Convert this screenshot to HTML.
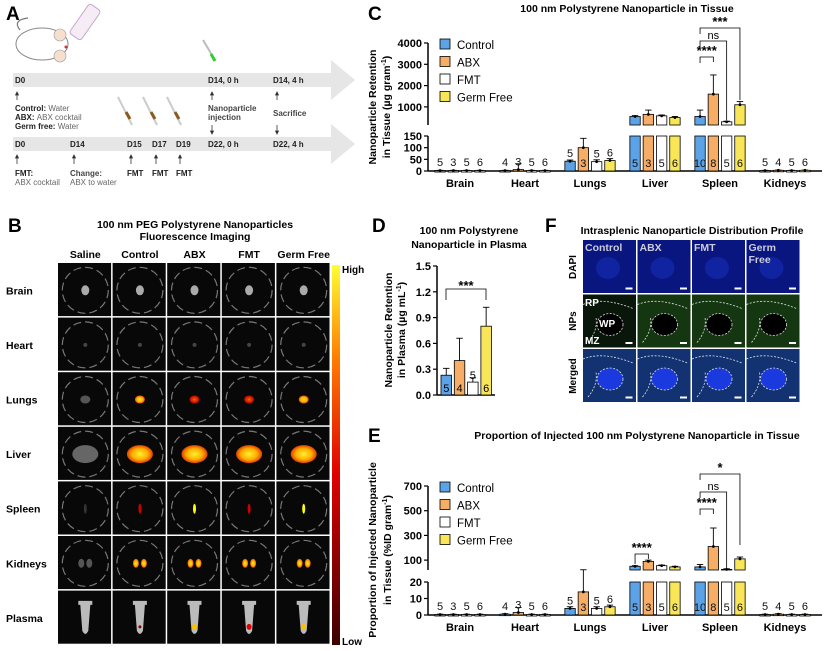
<!DOCTYPE html>
<html><head><meta charset="utf-8"><style>
body{margin:0;background:#fff}
svg{display:block;font-family:"Liberation Sans",Arial,sans-serif}
</style></head><body>
<svg id="fig" width="824" height="651" viewBox="0 0 824 651" xmlns="http://www.w3.org/2000/svg">
<defs>
<linearGradient id="cbar" x1="0" y1="1" x2="0" y2="0"><stop offset="0" stop-color="#3a0000"/><stop offset="0.45" stop-color="#e00000"/><stop offset="0.75" stop-color="#ff7a00"/><stop offset="1" stop-color="#ffff30"/></linearGradient>
<radialGradient id="blob"><stop offset="0" stop-color="#ffee30"/><stop offset="0.6" stop-color="#ffb000"/><stop offset="1" stop-color="#e04000"/></radialGradient>
<radialGradient id="blobr"><stop offset="0" stop-color="#ff6000"/><stop offset="1" stop-color="#b00000"/></radialGradient>
</defs>
<!-- Panel A -->
<g>
<text x="6" y="20" font-size="19" font-weight="bold">A</text>
<g>
<path d="M20 30 Q12 20 28 18" fill="none" stroke="#777" stroke-width="1.2"/>
<ellipse cx="42" cy="44" rx="26" ry="16" fill="#fff" stroke="#888" stroke-width="1"/>
<circle cx="60" cy="35" r="6" fill="#f5e0d0" stroke="#999" stroke-width="0.6"/>
<circle cx="60" cy="56" r="6" fill="#f5e0d0" stroke="#999" stroke-width="0.6"/>
<circle cx="66" cy="47" r="1.5" fill="#c33"/>
<rect x="78" y="4" width="14" height="36" rx="3" fill="#f6ecf6" stroke="#c8a8c8" transform="rotate(35 85 22)"/>
</g>
<rect x="13" y="73" width="318" height="14" fill="#e6e6e6"/>
<polygon points="331,60 355,80 331,100" fill="#e6e6e6"/>
<rect x="13" y="137" width="318" height="14" fill="#e6e6e6"/>
<polygon points="331,124 355,144 331,164" fill="#e6e6e6"/>
<g font-size="8" font-weight="bold" fill="#222">
<text x="15" y="83">D0</text><text x="208" y="83">D14, 0 h</text><text x="273" y="83">D14, 4 h</text>
<text x="15" y="147">D0</text><text x="70" y="147">D14</text><text x="127" y="147">D15</text><text x="152" y="147">D17</text><text x="176" y="147">D19</text><text x="208" y="147">D22, 0 h</text><text x="273" y="147">D22, 4 h</text>
<text x="15" y="111">Control: <tspan font-weight="normal" fill="#666">Water</tspan></text>
<text x="15" y="120">ABX: <tspan font-weight="normal" fill="#666">ABX cocktail</tspan></text>
<text x="15" y="129">Germ free: <tspan font-weight="normal" fill="#666">Water</tspan></text>
<text x="208" y="111" fill="#444">Nanoparticle</text><text x="208" y="120" fill="#444">injection</text>
<text x="273" y="116" fill="#444">Sacrifice</text>
<text x="15" y="176">FMT:</text><text x="15" y="185" font-weight="normal" fill="#666">ABX cocktail</text>
<text x="70" y="176" fill="#444">Change:</text><text x="70" y="185" font-weight="normal" fill="#666">ABX to water</text>
<text x="127" y="176">FMT</text><text x="152" y="176">FMT</text><text x="176" y="176">FMT</text>
</g>
<g stroke="#333" stroke-width="0.8" id="arrowsA"></g>
<g>
<line x1="203" y1="40" x2="215" y2="60" stroke="#bbb" stroke-width="2"/><line x1="211" y1="54" x2="215" y2="61" stroke="#3c3" stroke-width="3"/>
<line x1="118" y1="97" x2="132" y2="125" stroke="#ccc" stroke-width="2"/><line x1="126" y1="112" x2="130" y2="119" stroke="#8a5a20" stroke-width="3"/>
<line x1="143" y1="97" x2="157" y2="125" stroke="#ccc" stroke-width="2"/><line x1="151" y1="112" x2="155" y2="119" stroke="#8a5a20" stroke-width="3"/>
<line x1="167" y1="97" x2="181" y2="125" stroke="#ccc" stroke-width="2"/><line x1="175" y1="112" x2="179" y2="119" stroke="#8a5a20" stroke-width="3"/>
</g>
</g>
<!-- Panel B -->
<g>
<text x="8" y="232" font-size="19" font-weight="bold">B</text>
<text x="195" y="228" font-size="10.5" font-weight="bold" text-anchor="middle">100 nm PEG Polystyrene Nanoparticles</text>
<text x="195" y="240" font-size="10.5" font-weight="bold" text-anchor="middle">Fluorescence Imaging</text>
<g id="gridB"></g>
<rect x="332" y="265" width="8" height="380" fill="url(#cbar)"/>
<text x="342" y="273" font-size="10" font-weight="bold">High</text>
<text x="342" y="645" font-size="10" font-weight="bold">Low</text>
</g>
<!-- Panel C -->
<g id="panelC">
<text x="368" y="20" font-size="19" font-weight="bold">C</text>
<text x="627" y="12" font-size="10.5" font-weight="bold" text-anchor="middle">100 nm Polystyrene Nanoparticle in Tissue</text>
<text transform="translate(376,107) rotate(-90)" font-size="10.5" font-weight="bold" text-anchor="middle">Nanoparticle Retention</text>
<text transform="translate(390,107) rotate(-90)" font-size="10.5" font-weight="bold" text-anchor="middle">in Tissue (µg gram<tspan dy="-4" font-size="7">-1</tspan><tspan dy="4">)</tspan></text>
</g>
<!-- Panel D -->
<g id="panelD">
<text x="372" y="232" font-size="19" font-weight="bold">D</text>
<text x="469" y="234" font-size="10.5" font-weight="bold" text-anchor="middle">100 nm Polystyrene</text>
<text x="469" y="248" font-size="10.5" font-weight="bold" text-anchor="middle">Nanoparticle in Plasma</text>
<text transform="translate(392,330) rotate(-90)" font-size="10.5" font-weight="bold" text-anchor="middle">Nanoparticle Retention</text>
<text transform="translate(405,330) rotate(-90)" font-size="10.5" font-weight="bold" text-anchor="middle">in Plasma (µg mL<tspan dy="-4" font-size="7">-1</tspan><tspan dy="4">)</tspan></text>
</g>
<!-- Panel F -->
<g>
<text x="545" y="232" font-size="19" font-weight="bold">F</text>
<text x="692" y="234" font-size="10.5" font-weight="bold" text-anchor="middle">Intrasplenic Nanoparticle Distribution Profile</text>
<g id="gridF"></g>
<text transform="translate(576,267) rotate(-90)" font-size="10" font-weight="bold" text-anchor="middle">DAPI</text>
<text transform="translate(576,321) rotate(-90)" font-size="10" font-weight="bold" text-anchor="middle">NPs</text>
<text transform="translate(576,376) rotate(-90)" font-size="10" font-weight="bold" text-anchor="middle">Merged</text>
</g>
<!-- Panel E -->
<g id="panelE">
<text x="368" y="442" font-size="19" font-weight="bold">E</text>
<text x="637" y="439" font-size="10.5" font-weight="bold" text-anchor="middle">Proportion of Injected 100 nm Polystyrene Nanoparticle in Tissue</text>
<text transform="translate(376,550) rotate(-90)" font-size="10.5" font-weight="bold" text-anchor="middle">Proportion of Injected Nanoparticle</text>
<text transform="translate(391,550) rotate(-90)" font-size="10.5" font-weight="bold" text-anchor="middle">in Tissue (%ID gram<tspan dy="-4" font-size="7">-1</tspan><tspan dy="4">)</tspan></text>
</g>
</svg>
<script>
const categories = ["Brain","Heart","Lungs","Liver","Spleen","Kidneys"];
const groups = ["Control","ABX","FMT","Germ Free"];
const colors = ["#5ba3e6","#f6ad66","#ffffff","#f8e658"];
const seriesC = [[2,2,2,2],[2,6,2,2],[42,100,40,45],[550,650,580,500],[550,1600,300,1100],[2,3,2,3]];
const errC = [[1,1,1,1],[1,25,1,1],[5,40,8,8],[40,200,40,50],[300,900,30,150],[1,1,1,1]];
const nC = [[5,3,5,6],[4,3,5,6],[5,3,5,6],[5,3,5,6],[10,8,5,6],[5,4,5,6]];
const ticksCLow = [0,50,100,150];
const ticksCHigh = [1000,2000,3000,4000];
const seriesE = [[0.3,0.3,0.3,0.3],[0.5,1.5,0.3,0.3],[4,14,4,5],[50,90,55,45],[45,210,25,110],[0.3,0.5,0.3,0.3]];
const errE = [[0.2,0.2,0.2,0.2],[0.3,3,0.2,0.2],[1,8,1,1],[5,10,5,5],[20,150,5,15],[0.2,0.3,0.2,0.2]];
const nE = [[5,3,5,6],[4,3,5,6],[5,3,5,6],[5,3,5,6],[10,8,5,6],[5,4,5,6]];
const ticksELow = [0,10,20];
const ticksEHigh = [100,300,500,700];
const plasmaValues = [0.23,0.4,0.15,0.8];
const plasmaErr = [0.08,0.26,0.05,0.22];
const plasmaN = [5,4,5,6];
const ticksD = [0,0.3,0.6,0.9,1.2,1.5];
const rowsB = ["Brain","Heart","Lungs","Liver","Spleen","Kidneys","Plasma"];
const colsB = ["Saline","Control","ABX","FMT","Germ Free"];
const colsF = ["Control","ABX","FMT","Germ Free"];

const NS="http://www.w3.org/2000/svg";
function mk(parent,tag,attrs,text){const e=document.createElementNS(NS,tag);for(const k in attrs)e.setAttribute(k,attrs[k]);if(text!==undefined)e.textContent=text;parent.appendChild(e);return e;}

(function(){const g=document.getElementById('arrowsA');
[[17,92,100],[212,92,100],[277,92,100],[17,155,164],[74,155,164],[131,155,164],[156,155,164],[180,155,164]].forEach(a=>{mk(g,'line',{x1:a[0],y1:a[2],x2:a[0],y2:a[1]});mk(g,'polygon',{points:`${a[0]-1.5},${a[1]+3} ${a[0]},${a[1]} ${a[0]+1.5},${a[1]+3}`,fill:'#333'});});
[[212,125,134],[277,125,134]].forEach(a=>{mk(g,'line',{x1:a[0],y1:a[1],x2:a[0],y2:a[2]});mk(g,'polygon',{points:`${a[0]-1.5},${a[2]-3} ${a[0]},${a[2]} ${a[0]+1.5},${a[2]-3}`,fill:'#333'});});
})();

(function(){const g=document.getElementById('gridB');
const x0=58,y0=263,cw=54.6,rh=54.6;
colsB.forEach((c,j)=>{const t=mk(g,'text',{x:x0+cw*j+cw/2,y:258,'font-size':10.5,'font-weight':'bold','text-anchor':'middle'},c);
});
rowsB.forEach((r,i)=>{const t=mk(g,'text',{x:6,y:y0+rh*i+rh/2+4,'font-size':10.5,'font-weight':'bold'},r);

colsB.forEach((c,j)=>{const x=x0+cw*j,y=y0+rh*i,cx=x+cw/2,cy=y+rh/2;
const cell=mk(g,'rect',{x:x,y:y,width:cw-1.5,height:rh-1.5,fill:'#080808'});

if(r!=="Plasma"){mk(g,'circle',{cx:cx,cy:cy,r:23,fill:'none',stroke:'#777','stroke-width':1.2,'stroke-dasharray':'8 4'});}
if(r==="Brain"){mk(g,'ellipse',{cx:cx,cy:cy,rx:4,ry:5,fill:'#aaa'});}
else if(r==="Heart"){mk(g,'circle',{cx:cx,cy:cy,r:2,fill:'#444'});}
else if(r==="Lungs"){mk(g,'ellipse',{cx:cx,cy:cy,rx:5,ry:4,fill:j?(j==2||j==3?'url(#blobr)':'url(#blob)'):'#555'});}
else if(r==="Liver"){mk(g,'ellipse',{cx:cx,cy:cy,rx:13,ry:9,fill:j?'url(#blob)':'#666'});}
else if(r==="Spleen"){mk(g,'ellipse',{cx:cx,cy:cy,rx:1.5,ry:5,fill:j?(j==1||j==3?'#c00':'#ff0'):'#333'});}
else if(r==="Kidneys"){[-4,4].forEach(d=>mk(g,'ellipse',{cx:cx+d,cy:cy,rx:3,ry:4.5,fill:j?'url(#blob)':'#555'}));}
else {mk(g,'path',{d:`M${cx-7} ${cy-17} h14 v4 h-2 l-2 26 q-3 6 -6 0 l-2 -26 h-2z`,fill:'#bbb'});
if(j>1){mk(g,'ellipse',{cx:cx,cy:cy+9,rx:2.5,ry:3,fill:j==3?'#d00':'#ffc000'});} else if(j==1){mk(g,'circle',{cx:cx,cy:cy+9,r:1.5,fill:'#800'});}}
});});
})();

(function(){const g=document.getElementById('gridF');
const x0=583,y0=240,cw=54.5,rh=54.5;
const bgs=['#0a1680','#050a08','#0a1a78'];
for(let i=0;i<3;i++)colsF.forEach((c,j)=>{const x=x0+cw*j,y=y0+rh*i;
const cell=mk(g,'rect',{x:x,y:y,width:cw-1.5,height:rh-1.5,fill:bgs[i]});

if(i===1){mk(g,'rect',{x:x,y:y,width:cw-1.5,height:rh-1.5,fill:'#2a7a20',opacity:j?0.4:0.12});}
if(i===2){mk(g,'rect',{x:x,y:y,width:cw-1.5,height:rh-1.5,fill:'#2a7a60',opacity:0.25});}
if(i===0){mk(g,'ellipse',{cx:x+25,cy:y+28,rx:12,ry:11,fill:'#1530c0',opacity:0.5});}
if(i>0){mk(g,'ellipse',{cx:x+27,cy:y+30,rx:13,ry:11,fill:i===2?'#1a3adf':'#000',stroke:'#ddd','stroke-width':0.8,'stroke-dasharray':'2 1.5'});
mk(g,'path',{d:`M${x} ${y+10} q20 -8 50 4`,fill:'none',stroke:'#ddd','stroke-width':0.8,'stroke-dasharray':'2 1.5'});
mk(g,'path',{d:`M${x+5} ${y+48} q10 -12 8 -25`,fill:'none',stroke:'#ddd','stroke-width':0.8,'stroke-dasharray':'2 1.5'});}
mk(g,'rect',{x:x+cw-12,y:y+rh-7,width:7,height:2,fill:'#fff'});
if(i===0){mk(g,'text',{x:x+2,y:y+11,'font-size':10.5,'font-weight':'bold',fill:'#ccd'},c==="Germ Free"?"Germ":c);
if(c==="Germ Free")mk(g,'text',{x:x+2,y:y+23,'font-size':10.5,'font-weight':'bold',fill:'#ccd'},"Free");}
});
mk(g,'text',{x:585,y:306,'font-size':10,'font-weight':'bold',fill:'#fff'},"RP");
mk(g,'text',{x:599,y:327,'font-size':10,'font-weight':'bold',fill:'#fff'},"WP");
mk(g,'text',{x:585,y:344,'font-size':10,'font-weight':'bold',fill:'#fff'},"MZ");
})();

function barChart(gid,cfg){
const g=document.getElementById(gid);
const y=cfg.y;
mk(g,'line',{x1:cfg.ax,y1:cfg.lowTop,x2:cfg.ax,y2:cfg.base,stroke:'#000','stroke-width':1.5});
mk(g,'line',{x1:cfg.ax,y1:cfg.highTop,x2:cfg.ax,y2:cfg.highBot,stroke:'#000','stroke-width':1.5});
mk(g,'line',{x1:cfg.ax,y1:cfg.base,x2:cfg.axEnd,y2:cfg.base,stroke:'#000','stroke-width':1.5});
cfg.ticksLow.concat(cfg.ticksHigh).forEach(t=>{const yy=y(t);
mk(g,'line',{x1:cfg.ax-4,y1:yy,x2:cfg.ax,y2:yy,stroke:'#000','stroke-width':1.2});
const tx=mk(g,'text',{x:cfg.ax-6,y:yy+4,'font-size':11,'font-weight':'bold','text-anchor':'end'},t);
});
categories.forEach((c,ci)=>{const gc=cfg.cx0+ci*cfg.gap;
const t=mk(g,'text',{x:gc,y:cfg.base+16,'font-size':11,'font-weight':'bold','text-anchor':'middle'},c);

cfg.vals[ci].forEach((v,k)=>{const bx=gc+(k-1.5)*13.3-5.2,bw=10.4;
const err=cfg.errs[ci][k];
if(v>cfg.brk){
 const r1=mk(g,'rect',{x:bx,y:cfg.lowTop,width:bw,height:cfg.base-cfg.lowTop,fill:colors[k],stroke:'#000','stroke-width':0.8});
 
 const r2=mk(g,'rect',{x:bx,y:y(v),width:bw,height:cfg.highBot-y(v),fill:colors[k],stroke:'#000','stroke-width':0.8});
 
}else{
 const r=mk(g,'rect',{x:bx,y:y(v),width:bw,height:Math.max(cfg.base-y(v),1.5),fill:colors[k],stroke:'#000','stroke-width':0.8});
 
}
const ye=y(v+err);
mk(g,'line',{x1:bx+bw/2,y1:y(v),x2:bx+bw/2,y2:ye,stroke:'#000','stroke-width':0.9});
mk(g,'line',{x1:bx+2,y1:ye,x2:bx+bw-2,y2:ye,stroke:'#000','stroke-width':0.9});
mk(g,'circle',{cx:bx+bw/2,cy:y(v),r:1.4,fill:'#000'});
const n=cfg.ns[ci][k];
let ly; if(cfg.base-y(v)>18) ly=cfg.base-4; else ly=Math.min(cfg.base-5,y(v)-4);
mk(g,'text',{x:bx+bw/2,y:ly,'font-size':11,'text-anchor':'middle',fill:'#111'},n);
});});
groups.forEach((s,k)=>{const ly=cfg.legY+k*cfg.legGap;
const r=mk(g,'rect',{x:cfg.legX,y:ly-8,width:10,height:10,fill:colors[k],stroke:'#000','stroke-width':0.8});

const t=mk(g,'text',{x:cfg.legX+17,y:ly+2,'font-size':11.5},s);
});
const sc=cfg.cx0+4*cfg.gap;const xs=[0,1,2,3].map(k=>sc+(k-1.5)*13.3);
cfg.brackets.forEach(b=>{const yb=b[2];
mk(g,'path',{d:`M${xs[b[0]]} ${yb+6} V${yb} H${xs[b[1]]} V${b[3]}`,fill:'none',stroke:'#000','stroke-width':0.8});
mk(g,'text',{x:(xs[b[0]]+xs[b[1]])/2,y:yb-2,'font-size':b[4]==='ns'?11:13,'font-weight':b[4]==='ns'?'normal':'bold','text-anchor':'middle'},b[4]);});
return g;
}

barChart('panelC',{ax:428,axEnd:822,base:171,lowTop:136,highTop:43,highBot:125,brk:150,cx0:460,gap:65,
 y:v=>v<=150?171-v/150*35:125-(v-150)/3850*82,
 ticksLow:ticksCLow,ticksHigh:ticksCHigh,vals:seriesC,errs:errC,ns:nC,legX:440,legY:47,legGap:17.5,
 brackets:[[0,1,57,62,'****'],[0,2,41,120,'ns'],[0,3,28,100,'***']]});

const gE=barChart('panelE',{ax:428,axEnd:822,base:615,lowTop:582,highTop:486,highBot:570,brk:20,cx0:460,gap:65,
 y:v=>v<=20?615-v/20*33:570-(v-20)/680*84,
 ticksLow:ticksELow,ticksHigh:ticksEHigh,vals:seriesE,errs:errE,ns:nE,legX:440,legY:490,legGap:17.5,
 brackets:[[0,1,509,514,'****'],[0,2,492,568,'ns'],[0,3,474,545,'*']]});
(function(){const lc=460+3*65;const x1=lc-1.5*13.3,x2=lc-0.5*13.3;
mk(gE,'path',{d:`M${x1} 564 V554 H${x2} V559`,fill:'none',stroke:'#000','stroke-width':0.8});
mk(gE,'text',{x:(x1+x2)/2,y:552,'font-size':13,'font-weight':'bold','text-anchor':'middle'},'****');})();

(function(){const g=document.getElementById('panelD');
const ax=437,base=395,top=266;const yD=v=>base-v/1.5*(base-top);
mk(g,'line',{x1:ax,y1:top,x2:ax,y2:base,stroke:'#000','stroke-width':1.5});
mk(g,'line',{x1:ax,y1:base,x2:495,y2:base,stroke:'#000','stroke-width':1.5});
ticksD.forEach(t=>{const yy=yD(t);mk(g,'line',{x1:ax-4,y1:yy,x2:ax,y2:yy,stroke:'#000','stroke-width':1.2});
const tx=mk(g,'text',{x:ax-6,y:yy+4,'font-size':11,'font-weight':'bold','text-anchor':'end'},t.toFixed(1));
});
plasmaValues.forEach((v,k)=>{const bx=441+k*13.3,bw=10.5;
const r=mk(g,'rect',{x:bx,y:yD(v),width:bw,height:base-yD(v),fill:colors[k],stroke:'#000','stroke-width':0.8});

const ye=yD(v+plasmaErr[k]);
mk(g,'line',{x1:bx+bw/2,y1:yD(v),x2:bx+bw/2,y2:ye,stroke:'#000','stroke-width':0.9});
mk(g,'line',{x1:bx+2,y1:ye,x2:bx+bw-2,y2:ye,stroke:'#000','stroke-width':0.9});
mk(g,'text',{x:bx+bw/2,y:base-(base-yD(v)>14?3:base-yD(v)+3),'font-size':11,'text-anchor':'middle'},plasmaN[k]);});
mk(g,'path',{d:'M446 300 V289 H486 V300',fill:'none',stroke:'#000','stroke-width':0.8});
mk(g,'text',{x:466,y:290,'font-size':13,'font-weight':'bold','text-anchor':'middle'},'***');
})();
</script>
</body></html>
